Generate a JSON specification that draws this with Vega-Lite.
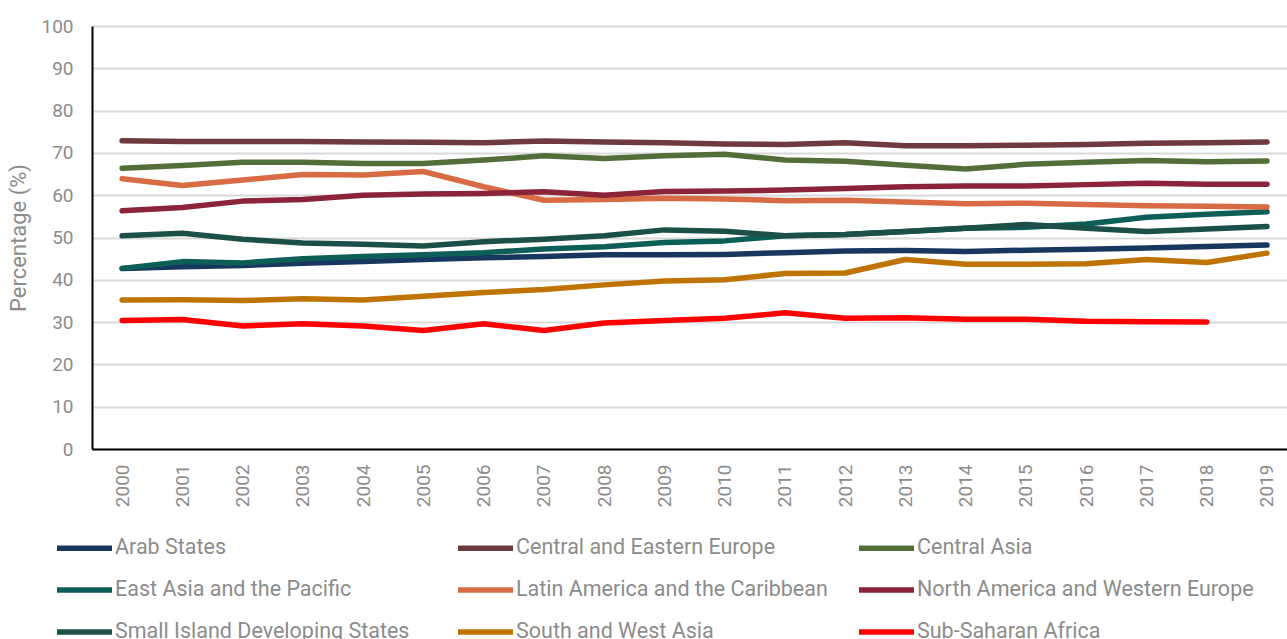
{
  "$schema": "https://vega.github.io/schema/vega-lite/v6.json",
  "width": 1195,
  "height": 423,
  "autosize": {"type": "none"},
  "padding": {"left": 92, "top": 26, "right": 0, "bottom": 190},
  "background": "white",
  "config": {
    "view": {"stroke": null},
    "font": "Roboto",
    "axis": {"labelFont": "Roboto", "titleFont": "Roboto"},
    "legend": {"labelFont": "Roboto"}
  },
  "data": {
    "values": [
      {"region": "Arab States", "year": 2000, "value": 42.7},
      {"region": "Arab States", "year": 2001, "value": 43.1},
      {"region": "Arab States", "year": 2002, "value": 43.4},
      {"region": "Arab States", "year": 2003, "value": 43.9},
      {"region": "Arab States", "year": 2004, "value": 44.3},
      {"region": "Arab States", "year": 2005, "value": 44.8},
      {"region": "Arab States", "year": 2006, "value": 45.2},
      {"region": "Arab States", "year": 2007, "value": 45.5},
      {"region": "Arab States", "year": 2008, "value": 45.9},
      {"region": "Arab States", "year": 2009, "value": 45.9},
      {"region": "Arab States", "year": 2010, "value": 46.0},
      {"region": "Arab States", "year": 2011, "value": 46.4},
      {"region": "Arab States", "year": 2012, "value": 46.8},
      {"region": "Arab States", "year": 2013, "value": 46.9},
      {"region": "Arab States", "year": 2014, "value": 46.7},
      {"region": "Arab States", "year": 2015, "value": 47.0},
      {"region": "Arab States", "year": 2016, "value": 47.2},
      {"region": "Arab States", "year": 2017, "value": 47.5},
      {"region": "Arab States", "year": 2018, "value": 47.9},
      {"region": "Arab States", "year": 2019, "value": 48.2},
      {"region": "Central and Eastern Europe", "year": 2000, "value": 72.9},
      {"region": "Central and Eastern Europe", "year": 2001, "value": 72.7},
      {"region": "Central and Eastern Europe", "year": 2002, "value": 72.7},
      {"region": "Central and Eastern Europe", "year": 2003, "value": 72.7},
      {"region": "Central and Eastern Europe", "year": 2004, "value": 72.6},
      {"region": "Central and Eastern Europe", "year": 2005, "value": 72.5},
      {"region": "Central and Eastern Europe", "year": 2006, "value": 72.4},
      {"region": "Central and Eastern Europe", "year": 2007, "value": 72.8},
      {"region": "Central and Eastern Europe", "year": 2008, "value": 72.6},
      {"region": "Central and Eastern Europe", "year": 2009, "value": 72.4},
      {"region": "Central and Eastern Europe", "year": 2010, "value": 72.1},
      {"region": "Central and Eastern Europe", "year": 2011, "value": 72.0},
      {"region": "Central and Eastern Europe", "year": 2012, "value": 72.4},
      {"region": "Central and Eastern Europe", "year": 2013, "value": 71.7},
      {"region": "Central and Eastern Europe", "year": 2014, "value": 71.7},
      {"region": "Central and Eastern Europe", "year": 2015, "value": 71.8},
      {"region": "Central and Eastern Europe", "year": 2016, "value": 72.0},
      {"region": "Central and Eastern Europe", "year": 2017, "value": 72.3},
      {"region": "Central and Eastern Europe", "year": 2018, "value": 72.4},
      {"region": "Central and Eastern Europe", "year": 2019, "value": 72.6},
      {"region": "Central Asia", "year": 2000, "value": 66.4},
      {"region": "Central Asia", "year": 2001, "value": 67.0},
      {"region": "Central Asia", "year": 2002, "value": 67.8},
      {"region": "Central Asia", "year": 2003, "value": 67.8},
      {"region": "Central Asia", "year": 2004, "value": 67.5},
      {"region": "Central Asia", "year": 2005, "value": 67.5},
      {"region": "Central Asia", "year": 2006, "value": 68.3},
      {"region": "Central Asia", "year": 2007, "value": 69.3},
      {"region": "Central Asia", "year": 2008, "value": 68.7},
      {"region": "Central Asia", "year": 2009, "value": 69.3},
      {"region": "Central Asia", "year": 2010, "value": 69.7},
      {"region": "Central Asia", "year": 2011, "value": 68.3},
      {"region": "Central Asia", "year": 2012, "value": 68.0},
      {"region": "Central Asia", "year": 2013, "value": 67.1},
      {"region": "Central Asia", "year": 2014, "value": 66.2},
      {"region": "Central Asia", "year": 2015, "value": 67.3},
      {"region": "Central Asia", "year": 2016, "value": 67.8},
      {"region": "Central Asia", "year": 2017, "value": 68.2},
      {"region": "Central Asia", "year": 2018, "value": 67.9},
      {"region": "Central Asia", "year": 2019, "value": 68.1},
      {"region": "East Asia and the Pacific", "year": 2000, "value": 42.7},
      {"region": "East Asia and the Pacific", "year": 2001, "value": 44.3},
      {"region": "East Asia and the Pacific", "year": 2002, "value": 44.0},
      {"region": "East Asia and the Pacific", "year": 2003, "value": 45.0},
      {"region": "East Asia and the Pacific", "year": 2004, "value": 45.5},
      {"region": "East Asia and the Pacific", "year": 2005, "value": 45.9},
      {"region": "East Asia and the Pacific", "year": 2006, "value": 46.4},
      {"region": "East Asia and the Pacific", "year": 2007, "value": 47.3},
      {"region": "East Asia and the Pacific", "year": 2008, "value": 47.8},
      {"region": "East Asia and the Pacific", "year": 2009, "value": 48.8},
      {"region": "East Asia and the Pacific", "year": 2010, "value": 49.2},
      {"region": "East Asia and the Pacific", "year": 2011, "value": 50.4},
      {"region": "East Asia and the Pacific", "year": 2012, "value": 50.7},
      {"region": "East Asia and the Pacific", "year": 2013, "value": 51.4},
      {"region": "East Asia and the Pacific", "year": 2014, "value": 52.2},
      {"region": "East Asia and the Pacific", "year": 2015, "value": 52.4},
      {"region": "East Asia and the Pacific", "year": 2016, "value": 53.2},
      {"region": "East Asia and the Pacific", "year": 2017, "value": 54.8},
      {"region": "East Asia and the Pacific", "year": 2018, "value": 55.5},
      {"region": "East Asia and the Pacific", "year": 2019, "value": 56.1},
      {"region": "Latin America and the Caribbean", "year": 2000, "value": 63.9},
      {"region": "Latin America and the Caribbean", "year": 2001, "value": 62.3},
      {"region": "Latin America and the Caribbean", "year": 2002, "value": 63.6},
      {"region": "Latin America and the Caribbean", "year": 2003, "value": 64.9},
      {"region": "Latin America and the Caribbean", "year": 2004, "value": 64.8},
      {"region": "Latin America and the Caribbean", "year": 2005, "value": 65.6},
      {"region": "Latin America and the Caribbean", "year": 2006, "value": 62.0},
      {"region": "Latin America and the Caribbean", "year": 2007, "value": 58.8},
      {"region": "Latin America and the Caribbean", "year": 2008, "value": 59.0},
      {"region": "Latin America and the Caribbean", "year": 2009, "value": 59.3},
      {"region": "Latin America and the Caribbean", "year": 2010, "value": 59.1},
      {"region": "Latin America and the Caribbean", "year": 2011, "value": 58.7},
      {"region": "Latin America and the Caribbean", "year": 2012, "value": 58.8},
      {"region": "Latin America and the Caribbean", "year": 2013, "value": 58.4},
      {"region": "Latin America and the Caribbean", "year": 2014, "value": 58.0},
      {"region": "Latin America and the Caribbean", "year": 2015, "value": 58.1},
      {"region": "Latin America and the Caribbean", "year": 2016, "value": 57.8},
      {"region": "Latin America and the Caribbean", "year": 2017, "value": 57.5},
      {"region": "Latin America and the Caribbean", "year": 2018, "value": 57.4},
      {"region": "Latin America and the Caribbean", "year": 2019, "value": 57.2},
      {"region": "North America and Western Europe", "year": 2000, "value": 56.3},
      {"region": "North America and Western Europe", "year": 2001, "value": 57.1},
      {"region": "North America and Western Europe", "year": 2002, "value": 58.6},
      {"region": "North America and Western Europe", "year": 2003, "value": 59.0},
      {"region": "North America and Western Europe", "year": 2004, "value": 60.0},
      {"region": "North America and Western Europe", "year": 2005, "value": 60.3},
      {"region": "North America and Western Europe", "year": 2006, "value": 60.4},
      {"region": "North America and Western Europe", "year": 2007, "value": 60.8},
      {"region": "North America and Western Europe", "year": 2008, "value": 60.0},
      {"region": "North America and Western Europe", "year": 2009, "value": 60.9},
      {"region": "North America and Western Europe", "year": 2010, "value": 61.0},
      {"region": "North America and Western Europe", "year": 2011, "value": 61.2},
      {"region": "North America and Western Europe", "year": 2012, "value": 61.6},
      {"region": "North America and Western Europe", "year": 2013, "value": 62.0},
      {"region": "North America and Western Europe", "year": 2014, "value": 62.2},
      {"region": "North America and Western Europe", "year": 2015, "value": 62.2},
      {"region": "North America and Western Europe", "year": 2016, "value": 62.5},
      {"region": "North America and Western Europe", "year": 2017, "value": 62.8},
      {"region": "North America and Western Europe", "year": 2018, "value": 62.6},
      {"region": "North America and Western Europe", "year": 2019, "value": 62.6},
      {"region": "Small Island Developing States", "year": 2000, "value": 50.4},
      {"region": "Small Island Developing States", "year": 2001, "value": 51.0},
      {"region": "Small Island Developing States", "year": 2002, "value": 49.6},
      {"region": "Small Island Developing States", "year": 2003, "value": 48.7},
      {"region": "Small Island Developing States", "year": 2004, "value": 48.4},
      {"region": "Small Island Developing States", "year": 2005, "value": 48.0},
      {"region": "Small Island Developing States", "year": 2006, "value": 49.0},
      {"region": "Small Island Developing States", "year": 2007, "value": 49.6},
      {"region": "Small Island Developing States", "year": 2008, "value": 50.4},
      {"region": "Small Island Developing States", "year": 2009, "value": 51.8},
      {"region": "Small Island Developing States", "year": 2010, "value": 51.5},
      {"region": "Small Island Developing States", "year": 2011, "value": 50.4},
      {"region": "Small Island Developing States", "year": 2012, "value": 50.7},
      {"region": "Small Island Developing States", "year": 2013, "value": 51.4},
      {"region": "Small Island Developing States", "year": 2014, "value": 52.2},
      {"region": "Small Island Developing States", "year": 2015, "value": 53.1},
      {"region": "Small Island Developing States", "year": 2016, "value": 52.2},
      {"region": "Small Island Developing States", "year": 2017, "value": 51.4},
      {"region": "Small Island Developing States", "year": 2018, "value": 52.0},
      {"region": "Small Island Developing States", "year": 2019, "value": 52.6},
      {"region": "South and West Asia", "year": 2000, "value": 35.2},
      {"region": "South and West Asia", "year": 2001, "value": 35.3},
      {"region": "South and West Asia", "year": 2002, "value": 35.1},
      {"region": "South and West Asia", "year": 2003, "value": 35.5},
      {"region": "South and West Asia", "year": 2004, "value": 35.2},
      {"region": "South and West Asia", "year": 2005, "value": 36.1},
      {"region": "South and West Asia", "year": 2006, "value": 37.0},
      {"region": "South and West Asia", "year": 2007, "value": 37.7},
      {"region": "South and West Asia", "year": 2008, "value": 38.8},
      {"region": "South and West Asia", "year": 2009, "value": 39.7},
      {"region": "South and West Asia", "year": 2010, "value": 40.0},
      {"region": "South and West Asia", "year": 2011, "value": 41.5},
      {"region": "South and West Asia", "year": 2012, "value": 41.6},
      {"region": "South and West Asia", "year": 2013, "value": 44.8},
      {"region": "South and West Asia", "year": 2014, "value": 43.7},
      {"region": "South and West Asia", "year": 2015, "value": 43.7},
      {"region": "South and West Asia", "year": 2016, "value": 43.8},
      {"region": "South and West Asia", "year": 2017, "value": 44.8},
      {"region": "South and West Asia", "year": 2018, "value": 44.1},
      {"region": "South and West Asia", "year": 2019, "value": 46.3},
      {"region": "Sub-Saharan Africa", "year": 2000, "value": 30.4},
      {"region": "Sub-Saharan Africa", "year": 2001, "value": 30.6},
      {"region": "Sub-Saharan Africa", "year": 2002, "value": 29.1},
      {"region": "Sub-Saharan Africa", "year": 2003, "value": 29.6},
      {"region": "Sub-Saharan Africa", "year": 2004, "value": 29.1},
      {"region": "Sub-Saharan Africa", "year": 2005, "value": 28.0},
      {"region": "Sub-Saharan Africa", "year": 2006, "value": 29.6},
      {"region": "Sub-Saharan Africa", "year": 2007, "value": 28.0},
      {"region": "Sub-Saharan Africa", "year": 2008, "value": 29.8},
      {"region": "Sub-Saharan Africa", "year": 2009, "value": 30.4},
      {"region": "Sub-Saharan Africa", "year": 2010, "value": 30.9},
      {"region": "Sub-Saharan Africa", "year": 2011, "value": 32.2},
      {"region": "Sub-Saharan Africa", "year": 2012, "value": 30.9},
      {"region": "Sub-Saharan Africa", "year": 2013, "value": 31.0},
      {"region": "Sub-Saharan Africa", "year": 2014, "value": 30.7},
      {"region": "Sub-Saharan Africa", "year": 2015, "value": 30.7},
      {"region": "Sub-Saharan Africa", "year": 2016, "value": 30.2},
      {"region": "Sub-Saharan Africa", "year": 2017, "value": 30.1},
      {"region": "Sub-Saharan Africa", "year": 2018, "value": 30.0}
    ]
  },
  "mark": {"type": "line", "strokeWidth": 5.5, "strokeCap": "round", "strokeJoin": "round"},
  "encoding": {
    "x": {
      "field": "year",
      "type": "quantitative",
      "scale": {"domain": [1999.5, 2019.332], "nice": false, "zero": false},
      "axis": {
        "title": null,
        "values": [2000, 2001, 2002, 2003, 2004, 2005, 2006, 2007, 2008, 2009, 2010, 2011, 2012, 2013, 2014, 2015, 2016, 2017, 2018, 2019],
        "format": "d",
        "labelAngle": -90,
        "labelOverlap": false,
        "labelFlush": false,
        "labelFontSize": 19,
        "labelColor": "#8c8c8c",
        "labelPadding": 15,
        "ticks": false,
        "domainColor": "#000000",
        "domainWidth": 2,
        "grid": false
      }
    },
    "y": {
      "field": "value",
      "type": "quantitative",
      "scale": {"domain": [0, 100], "nice": false, "zero": true},
      "axis": {
        "title": "Percentage (%)",
        "titleFontSize": 22,
        "titleFontWeight": "normal",
        "titleColor": "#8c8c8c",
        "titlePadding": 10,
        "values": [0, 10, 20, 30, 40, 50, 60, 70, 80, 90, 100],
        "labelFontSize": 19,
        "labelColor": "#8c8c8c",
        "labelPadding": 19,
        "ticks": false,
        "domainColor": "#000000",
        "domainWidth": 2,
        "gridColor": "#d9d9d9",
        "gridWidth": 2
      }
    },
    "color": {
      "field": "region",
      "type": "nominal",
      "scale": {
        "domain": ["Arab States", "Central and Eastern Europe", "Central Asia", "East Asia and the Pacific", "Latin America and the Caribbean", "North America and Western Europe", "Small Island Developing States", "South and West Asia", "Sub-Saharan Africa"],
        "range": ["#17375e", "#6e3a3e", "#546e3a", "#0c5e57", "#d96b44", "#8b2339", "#1b4f48", "#bf7300", "#ff0000"]
      },
      "legend": {
        "title": null,
        "orient": "none",
        "legendX": -38,
        "legendY": 512,
        "direction": "horizontal",
        "columns": 3,
        "gridAlign": "all",
        "columnPadding": 3,
        "rowPadding": 20,
        "symbolType": "stroke",
        "symbolSize": 3025,
        "symbolStrokeWidth": 5.5,
        "clipHeight": 20,
        "labelOffset": 0,
        "labelFontSize": 21.5,
        "labelColor": "#8c8c8c",
        "labelLimit": 500
      }
    }
  }
}
